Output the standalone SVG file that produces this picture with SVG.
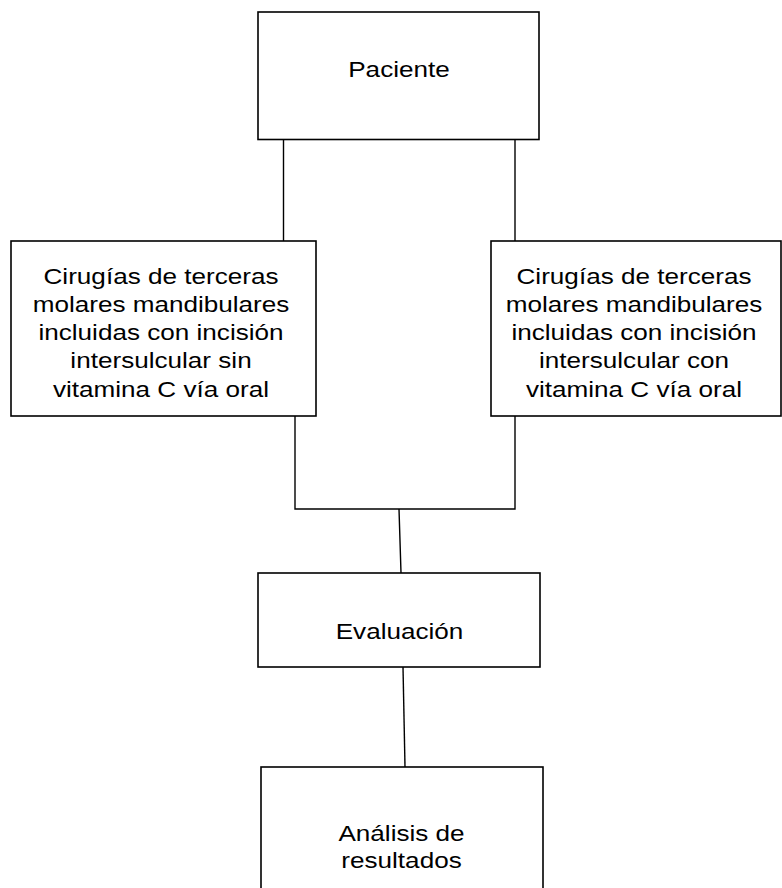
<svg xmlns="http://www.w3.org/2000/svg" width="782" height="888" viewBox="0 0 782 888">
<style>
.box{fill:#fff;stroke:#000;stroke-width:1.6}
.ln{fill:none;stroke:#000;stroke-width:1.4}
.t{font-family:"Liberation Sans",Arial,sans-serif;font-size:22.5px;fill:#000;text-anchor:middle}
</style>
<rect width="782" height="888" fill="#fff"/>
<g id="connectors">
<line class="ln" x1="283.5" y1="140" x2="283.5" y2="241"/>
<line class="ln" x1="515" y1="140" x2="515" y2="241"/>
<polyline class="ln" points="295,416 295,509 515,509 515,416"/>
<line class="ln" x1="399" y1="509" x2="401" y2="573"/>
<line class="ln" x1="403" y1="667" x2="405" y2="767"/>
</g>
<g id="paciente">
<rect class="box" x="258" y="12" width="281" height="127.5"/>
<text class="t" transform="translate(399,77) scale(1.16,1)">Paciente</text>
</g>
<g id="sin-vitamina">
<rect class="box" x="11" y="241" width="305" height="175"/>
<g class="t" transform="translate(161,0)">
<text class="t" transform="translate(0,283.5) scale(1.16,1)">Cirugías de terceras</text>
<text class="t" transform="translate(0,311.8) scale(1.16,1)">molares mandibulares</text>
<text class="t" transform="translate(0,340.1) scale(1.16,1)">incluidas con incisión</text>
<text class="t" transform="translate(0,368.4) scale(1.16,1)">intersulcular sin</text>
<text class="t" transform="translate(0,396.7) scale(1.16,1)">vitamina C vía oral</text>
</g>
</g>
<g id="con-vitamina">
<rect class="box" x="491" y="241" width="290" height="175"/>
<g class="t" transform="translate(634,0)">
<text class="t" transform="translate(0,283.5) scale(1.16,1)">Cirugías de terceras</text>
<text class="t" transform="translate(0,311.8) scale(1.16,1)">molares mandibulares</text>
<text class="t" transform="translate(0,340.1) scale(1.16,1)">incluidas con incisión</text>
<text class="t" transform="translate(0,368.4) scale(1.16,1)">intersulcular con</text>
<text class="t" transform="translate(0,396.7) scale(1.16,1)">vitamina C vía oral</text>
</g>
</g>
<g id="evaluacion">
<rect class="box" x="258" y="573" width="282" height="94"/>
<text class="t" transform="translate(399.5,639.3) scale(1.16,1)">Evaluación</text>
</g>
<g id="analisis">
<rect class="box" x="261" y="767" width="282" height="130"/>
<text class="t" transform="translate(401.5,840.7) scale(1.16,1)">Análisis de</text>
<text class="t" transform="translate(401.5,868.3) scale(1.16,1)">resultados</text>
</g>
</svg>
